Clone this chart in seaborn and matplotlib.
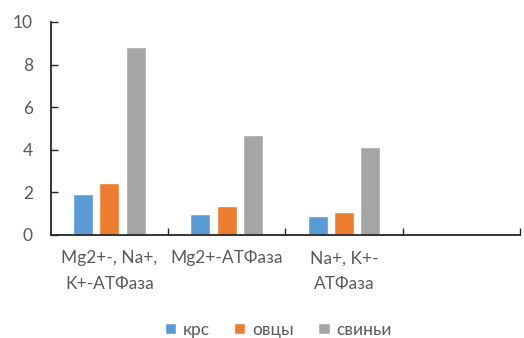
import pandas as pd
import matplotlib
matplotlib.use("Agg")
import matplotlib.pyplot as plt
import seaborn as sns

# данные с графика
categories = ["Mg2+-, Na+,\nK+-АТФаза", "Mg2+-АТФаза", "Na+, K+-\nАТФаза", ""]
series = ["крс", "овцы", "свиньи"]
krs = [1.92, 1.0, 0.9]
ovcy = [2.42, 1.35, 1.08]
svini = [8.82, 4.7, 4.15]
colors = ["#5B9BD5", "#ED7D31", "#A5A5A5"]

rows = []
for name, vals in zip(series, [krs, ovcy, svini]):
    for cat, v in zip(categories[:3], vals):
        rows.append({"cat": cat, "animal": name, "value": v})
df = pd.DataFrame(rows)

sns.set_theme(style="white")
plt.rcParams["font.family"] = ["Lato", "DejaVu Sans"]
text_col = "#595959"

fig = plt.figure(figsize=(5.24, 3.38), dpi=100)
ax = fig.add_axes([0.097, 0.305, 0.895, 0.63])

sns.barplot(data=df, x="cat", y="value", hue="animal", order=categories,
            hue_order=series, palette=colors, width=0.675, gap=0.245,
            saturation=1, ax=ax)

ax.set_xlim(-0.5, 3.5)
ax.set_ylim(0, 10)
ax.set_yticks([0, 2, 4, 6, 8, 10])
ax.set_xlabel("")
ax.set_ylabel("")

for s in ["top", "right"]:
    ax.spines[s].set_visible(False)
for s in ["left", "bottom"]:
    ax.spines[s].set_color("#262626")
    ax.spines[s].set_linewidth(1.3)

ax.tick_params(axis="y", direction="in", length=5, width=1, color="#262626",
               pad=13, labelsize=12.5, labelcolor=text_col, left=True)
ax.tick_params(axis="x", which="major", length=0, pad=11, labelsize=12.5,
               labelcolor=text_col)
ax.set_xticks([0.5, 1.5, 2.5, 3.5], minor=True)
ax.tick_params(axis="x", which="minor", direction="in", length=5, width=1,
               color="#262626", bottom=True)
for lbl in ax.get_xticklabels():
    lbl.set_linespacing(1.75)
    lbl.set_verticalalignment("top")

ax.legend(loc="center", bbox_to_anchor=(0.485, -0.445), ncol=3, frameon=False,
          fontsize=12.5, handlelength=0.65, handleheight=0.65, handletextpad=0.4,
          columnspacing=1.4, labelcolor=text_col)

fig.savefig("out.png", dpi=100)
